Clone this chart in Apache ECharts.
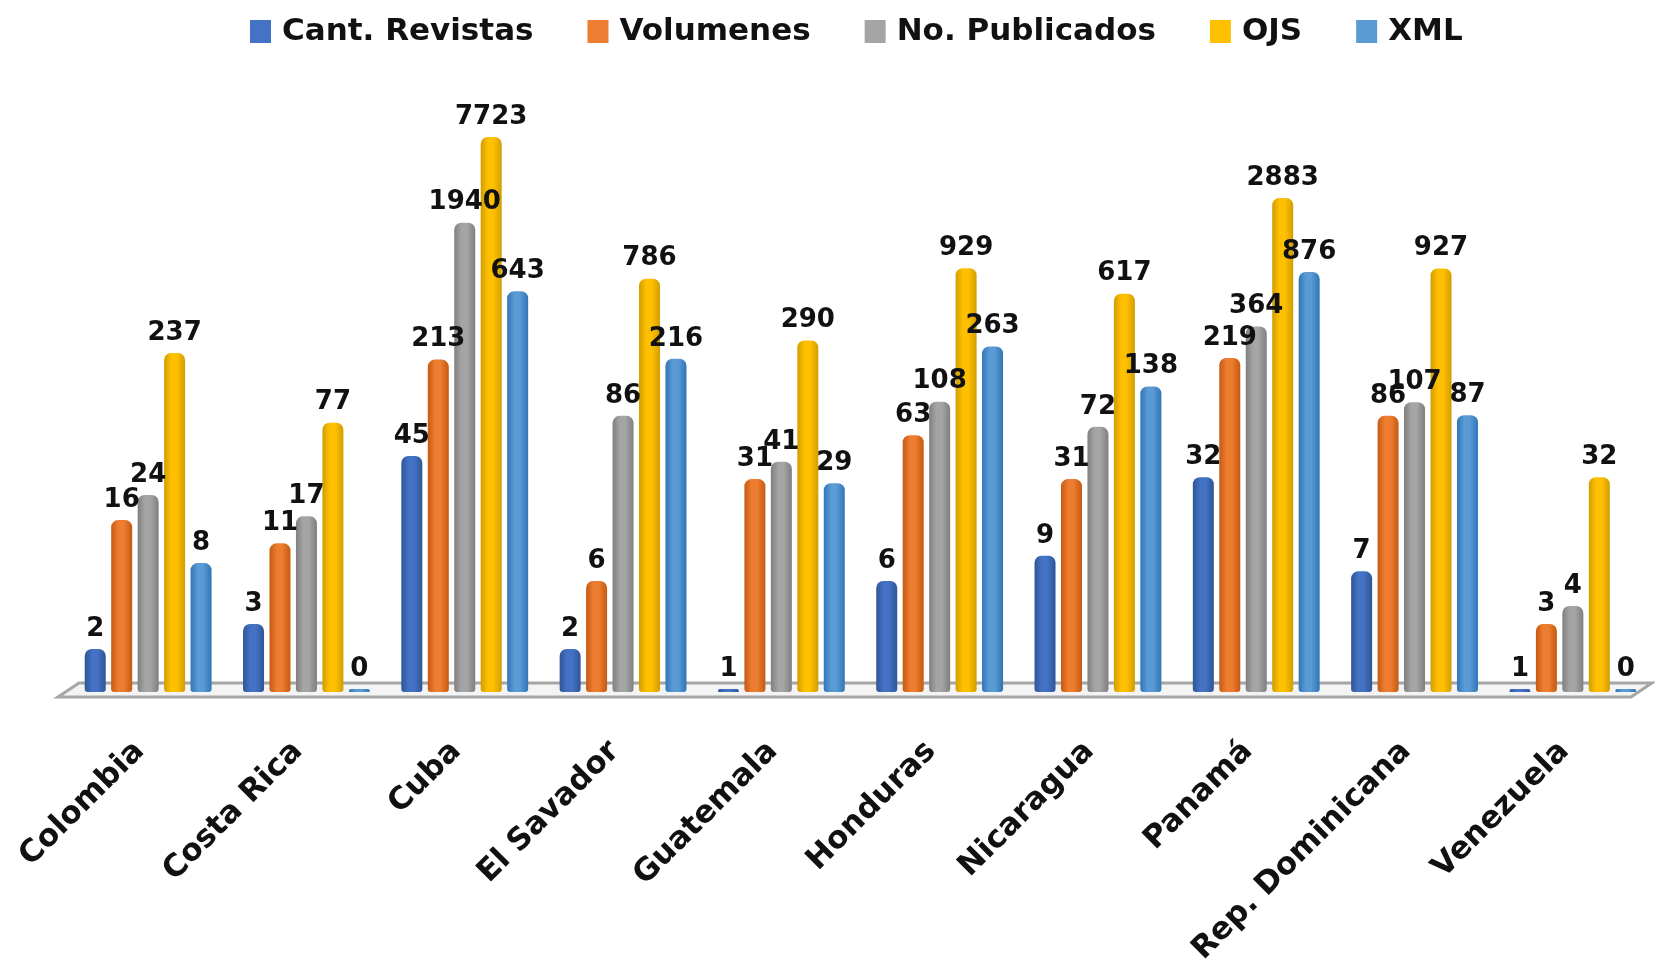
<!DOCTYPE html>
<html>
<head>
<meta charset="utf-8">
<title>Revistas por país</title>
<script src="https://cdn.jsdelivr.net/npm/echarts@6/dist/echarts.min.js"></script>
<style>
  html, body { margin: 0; padding: 0; background: #fff; }
  #chart { width: 1655px; height: 962px; }
</style>
</head>
<body>
<div id="chart"></div>
<script>
// datos
const paises = ["Colombia", "Costa Rica", "Cuba", "El Savador", "Guatemala", "Honduras", "Nicaragua", "Panamá", "Rep. Dominicana", "Venezuela"];
const cantRevistas = [2, 3, 45, 2, 1, 6, 9, 32, 7, 1];
const volumenes = [16, 11, 213, 6, 31, 63, 31, 219, 86, 3];
const noPublicados = [24, 17, 1940, 86, 41, 108, 72, 364, 107, 4];
const ojs = [237, 77, 7723, 786, 290, 929, 617, 2883, 927, 32];
const xml = [8, 0, 643, 216, 29, 263, 138, 876, 87, 0];

const series_def = [
  { name: "Cant. Revistas", data: cantRevistas, color: "#4472C4", dark: "#2F5597" },
  { name: "Volumenes", data: volumenes, color: "#ED7D31", dark: "#C55A11" },
  { name: "No. Publicados", data: noPublicados, color: "#A5A5A5", dark: "#7F7F7F" },
  { name: "OJS", data: ojs, color: "#FFC000", dark: "#D19E00" },
  { name: "XML", data: xml, color: "#5B9BD5", dark: "#2E75B6" },
];

const gridLeft = 69, gridRight = 3, gridTop = 121, gridBottom = 270;
const W = 1655, H = 962;
const base = H - gridBottom;

const cylinder = (c, d) => ({
  type: "linear", x: 0, y: 0, x2: 1, y2: 0,
  colorStops: [
    { offset: 0, color: d },
    { offset: 0.35, color: c },
    { offset: 0.6, color: c },
    { offset: 1, color: d },
  ],
});

const myChart = echarts.init(document.getElementById("chart"));

const option = {
  backgroundColor: "#fff",
  animation: false,
  textStyle: { fontFamily: "DejaVu Sans" },
  legend: {
    top: 11,
    left: 245,
    itemWidth: 21,
    itemHeight: 23,
    itemGap: 54,
    icon: "rect",
    textStyle: { fontSize: 31, fontWeight: "bold", color: "#111", padding: [0, 0, 0, 6] },
    data: series_def.map((s) => ({ name: s.name, itemStyle: { color: s.color } })),
  },
  grid: {
    left: gridLeft,
    right: gridRight,
    top: gridTop,
    bottom: gridBottom,
    containLabel: false,
    outerBoundsMode: "none",
  },
  xAxis: {
    type: "category",
    data: paises,
    axisLine: { show: false },
    axisTick: { show: false },
    axisLabel: {
      interval: 0,
      rotate: 45,
      margin: 46,
      padding: [0, 12, 0, 0],
      fontSize: 31,
      fontWeight: "bold",
      color: "#111",
    },
  },
  yAxis: {
    type: "log",
    min: 1,
    max: 10000,
    show: false,
    splitLine: { show: false },
  },
  graphic: [
    {
      type: "polygon",
      z: 0,
      shape: {
        points: [
          [gridLeft + 10, base - 9],
          [W - gridRight, base - 9],
          [W - gridRight - 21, base + 5],
          [gridLeft - 11, base + 5],
        ],
      },
      style: { fill: "#f4f4f4", stroke: "#a6a6a6", lineWidth: 3 },
    },
  ],
  series: series_def.map((s) => ({
    name: s.name,
    type: "bar",
    z: 3,
    barWidth: 21,
    barGap: "26%",
    barMinHeight: 3,
    itemStyle: {
      color: cylinder(s.color, s.dark),
      borderRadius: [7, 7, 3, 3],
    },
    label: {
      show: true,
      position: "top",
      distance: 7,
      fontSize: 26,
      fontWeight: "bold",
      color: "#111",
      formatter: (p) => String(s.data[p.dataIndex]),
    },
    data: s.data.map((v) => (v > 0 ? v : 1)),
  })),
};

myChart.setOption(option);
</script>
</body>
</html>
